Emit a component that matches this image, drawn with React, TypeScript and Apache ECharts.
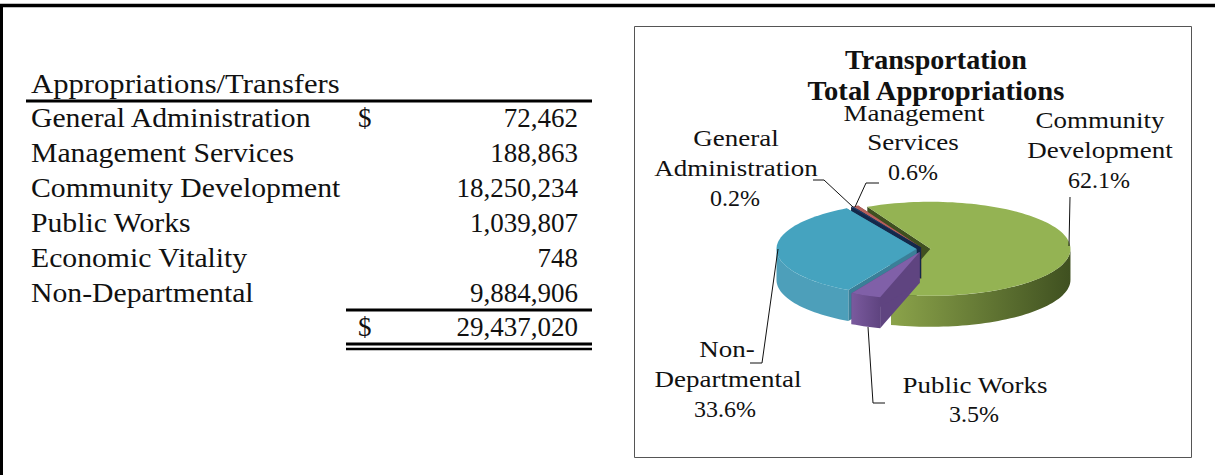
import React, { useEffect, useRef } from "react";
import * as echarts from "echarts";

const departments = ["General Administration", "Management Services", "Community Development", "Public Works", "Economic Vitality", "Non-Departmental"];
const amounts = [72462, 188863, 18250234, 1039807, 748, 9884906];
const amountLabels = ["72,462", "188,863", "18,250,234", "1,039,807", "748", "9,884,906"];
const totalLabel = "29,437,020";
const percentLabels = ["0.2%", "0.6%", "62.1%", "3.5%", "0.0%", "33.6%"];
const topColors = ["#1f3f6e", "#b5605c", "#94b353", "#8060a8", "#e08a3c", "#45a3bf"];
const sideLight = ["#1f3f6e", "#a05450", "#8ba34a", "#7a5a9e", "#e08a3c", "#4d9fba"];
const sideDark = ["#14284a", "#6e3532", "#3f5020", "#5f4480", "#a06020", "#3a7f98"];
const paintOrder = [2, 1, 0, 5, 3];
const explode = [5, 5, 7, 10, 0, 7];

const SERIF = '"Liberation Serif","DejaVu Serif",serif';
const CX = 923.5, CY = 249, RX = 140, RY = 47, DEPTH = 31, START = -30;
const total = amounts.reduce((a, b) => a + b, 0);

const pt = (deg: number, ox: number, oy: number, r = 1) => {
  const t = (deg * Math.PI) / 180;
  return [ox + Math.sin(t) * RX * r, oy - Math.cos(t) * RY * r];
};

function renderSlice(params: any, api: any) {
  const i = paintOrder[params.dataIndex];
  const before = amounts.slice(0, i).reduce((a, b) => a + b, 0);
  const a0 = START + (before / total) * 360;
  const a1 = a0 + (api.value(0) / total) * 360;
  const mid = (a0 + a1) / 2;
  const m = (mid * Math.PI) / 180;
  const ox = CX + Math.sin(m) * explode[i];
  const oy = CY - (Math.cos(m) * explode[i] * RY) / RX;
  const steps = Math.max(3, Math.ceil((a1 - a0) / 2));
  const arc: number[][] = [];
  for (let s = 0; s <= steps; s++) arc.push(pt(a0 + ((a1 - a0) * s) / steps, ox, oy));
  const children: any[] = [];
  const wall = (pts: number[][], fill: any) =>
    children.push({ type: "polygon", shape: { points: pts }, style: { fill, stroke: null } });
  const down = (p: number[]) => [p[0], p[1] + DEPTH];
  wall([[ox, oy], arc[0], down(arc[0]), [ox, oy + DEPTH]], sideDark[i]);
  wall([[ox, oy], arc[arc.length - 1], down(arc[arc.length - 1]), [ox, oy + DEPTH]], sideDark[i]);
  const lo = Math.max(a0, 90), hi = Math.min(a1, 270);
  if (hi > lo) {
    const front: number[][] = [];
    const n = Math.ceil((hi - lo) / 2);
    for (let s = 0; s <= n; s++) front.push(pt(lo + ((hi - lo) * s) / n, ox, oy));
    wall([...front, ...front.slice().reverse().map(down)], new echarts.graphic.LinearGradient(1, 0, 0, 0, [
      { offset: 0, color: i === 5 ? sideLight[i] : sideDark[i] },
      { offset: 1, color: sideLight[i] },
    ]));
  }
  wall([[ox, oy], ...arc], topColors[i]);
  return { type: "group", children };
}

export default function App() {
  const ref = useRef<HTMLDivElement>(null);
  useEffect(() => {
    const chart = echarts.init(ref.current!, null, { renderer: "svg" });
    const txt = (text: string, x: number, y: number, size: number, align = "left", weight = "normal", scaleX = 1) => ({
      type: "text", x, y, scaleX, silent: true,
      style: { text, fill: "#111", font: `${weight} ${size}px ${SERIF}`, textAlign: align, textVerticalAlign: "middle" },
    });
    const bar = (x1: number, y1: number, x2: number, y2: number, lineWidth: number, stroke = "#000") => ({
      type: "line", silent: true, shape: { x1, y1, x2, y2 }, style: { stroke, lineWidth },
    });
    const leader = (points: number[][]) => ({
      type: "polyline", silent: true, z: 5, shape: { points }, style: { stroke: "#111", lineWidth: 1, fill: null },
    });
    const rowY = [118, 153, 188, 223, 258, 293];
    const labelFont = 24, labelScale = 1.125, tableScale = 1.1;
    const lab = (t: string, x: number, y: number) => txt(t, x, y, labelFont, "center", "normal", labelScale);
    const pct = (t: string, x: number, y: number) => txt(t, x, y, labelFont, "center");
    const graphic: any[] = [
      bar(0, 5.5, 1215, 5.5, 3.5),
      bar(1.5, 4, 1.5, 475, 3),
      { type: "rect", silent: true, shape: { x: 634.5, y: 26.5, width: 557, height: 431 }, style: { fill: "#fff", stroke: "#555", lineWidth: 1 }, z: -1 },
      txt("Appropriations/Transfers", 31, 84, 27, "left", "normal", 1.136),
      bar(26, 101, 592, 101, 3),
      bar(346, 310, 592, 310, 3),
      bar(346, 344, 592, 344, 3),
      bar(346, 349, 592, 349, 2.5),
      txt("$", 358, 118, 27),
      txt("$", 358, 327, 27),
      txt(totalLabel, 578, 327, 27, "right"),
      ...departments.flatMap((d, i) => [txt(d, 31, rowY[i], 27, "left", "normal", tableScale), txt(amountLabels[i], 578, rowY[i], 27, "right")]),
      txt("Transportation", 936, 60, 27, "center", "bold", 1.04),
      txt("Total Appropriations", 936, 91, 27, "center", "bold", 1.06),
      lab("General", 736, 138), lab("Administration", 736, 168), pct(percentLabels[0], 735, 198),
      lab("Management", 914, 113), lab("Services", 913, 142), pct(percentLabels[1], 913, 172),
      lab("Community", 1100, 120), lab("Development", 1100, 150), pct(percentLabels[2], 1099, 180),
      lab("Public Works", 975, 385), pct(percentLabels[3], 974, 414),
      lab("Non-", 727, 349), lab("Departmental", 728, 379), pct(percentLabels[5], 725, 409),
      leader([[813, 180], [824, 180], [853, 207]]),
      leader([[879, 183], [866, 183], [855, 207]]),
      leader([[1070, 197], [1069, 246]]),
      leader([[868, 327], [873, 403], [885, 403]]),
      leader([[778, 249], [762, 363], [750, 363]]),
    ];
    chart.setOption({
      animation: false,
      backgroundColor: "#fff",
      graphic,
      series: [{
        type: "custom",
        coordinateSystem: "none",
        silent: true,
        renderItem: renderSlice,
        z: 3,
        data: paintOrder.map((i) => ({ name: departments[i], value: [amounts[i]] })),
      }],
    });
    return () => chart.dispose();
  }, []);
  return <div ref={ref} style={{ position: "fixed", left: 0, top: 0, width: 1215, height: 475 }} />;
}
